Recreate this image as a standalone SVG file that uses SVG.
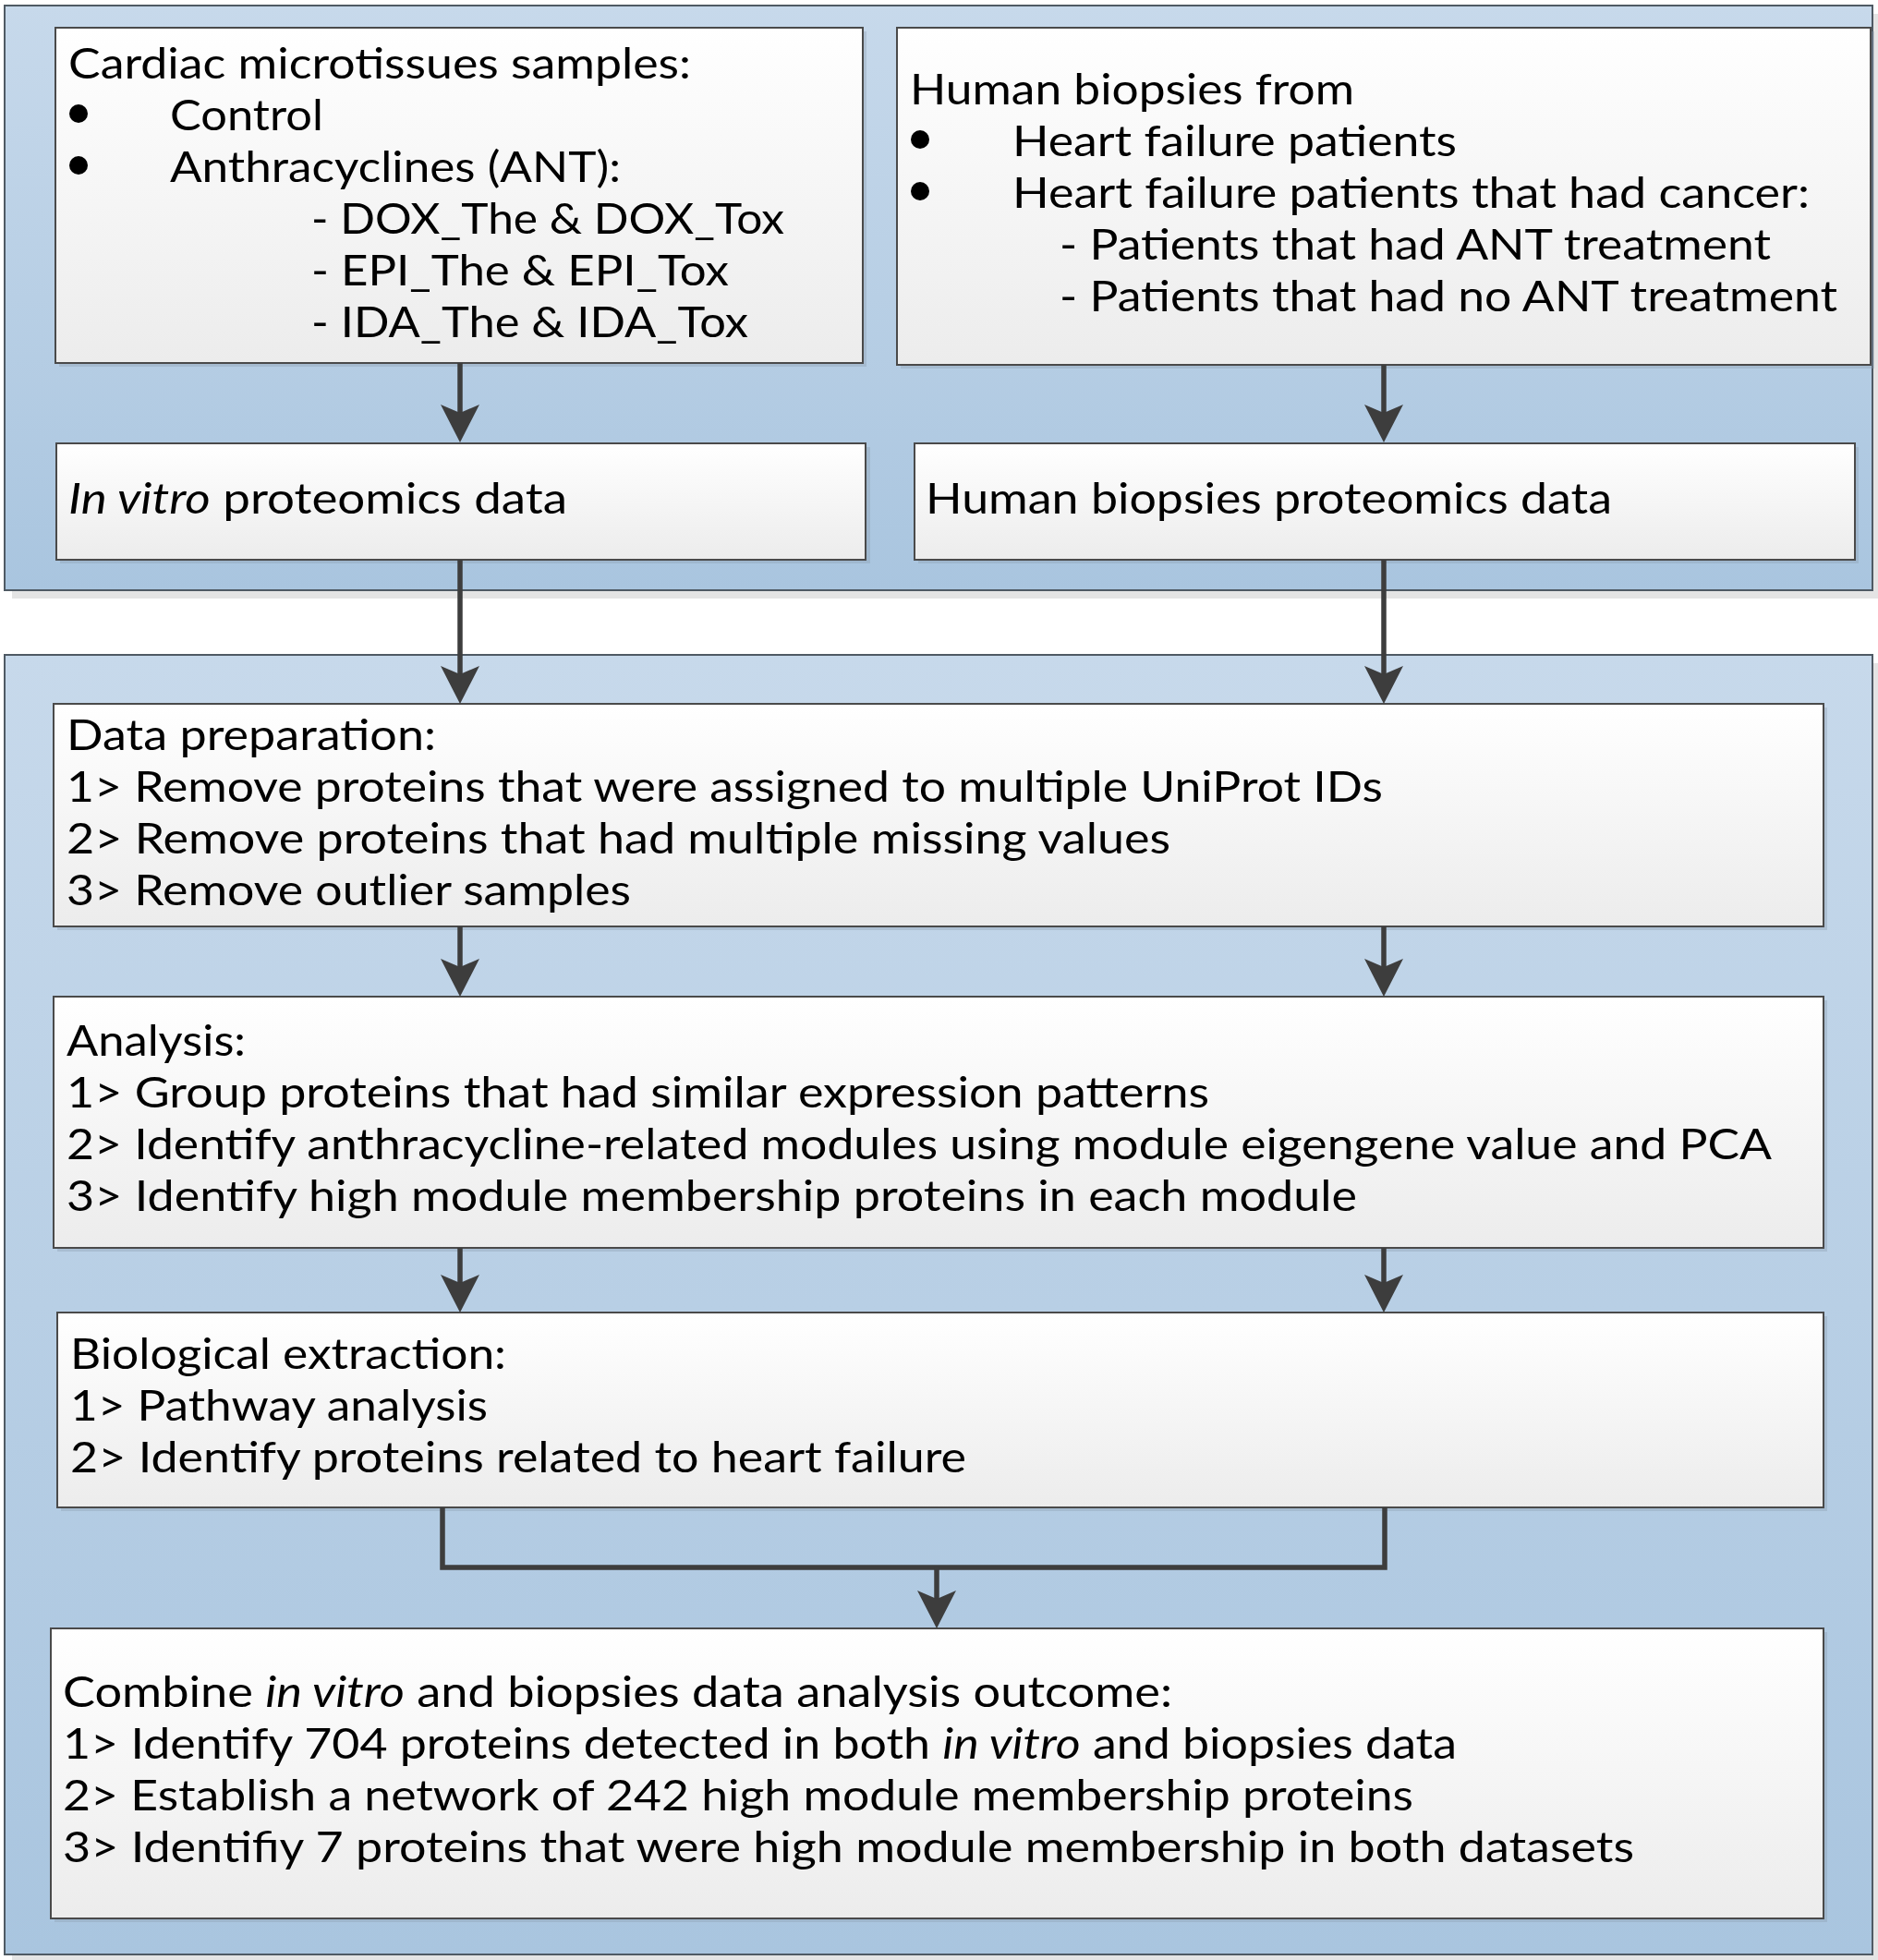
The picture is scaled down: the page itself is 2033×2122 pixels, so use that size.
<svg xmlns="http://www.w3.org/2000/svg" width="2033" height="2122" viewBox="0 0 2033 2122">
<defs>
<linearGradient id="pg" x1="0" y1="0" x2="0" y2="1">
<stop offset="0" stop-color="#c7d9eb"/>
<stop offset="1" stop-color="#a9c5df"/>
</linearGradient>
<linearGradient id="bg" x1="0" y1="0" x2="0" y2="1">
<stop offset="0" stop-color="#ffffff"/>
<stop offset="1" stop-color="#ececec"/>
</linearGradient>
<marker id="ah" markerUnits="userSpaceOnUse" markerWidth="80" markerHeight="80" refX="0" refY="0" orient="auto" overflow="visible">
<path d="M30,0 L-11,-21 L-2,0 L-11,21 Z" fill="#3d3d3d"/>
</marker>
</defs>
<style>
.panel{fill:url(#pg);stroke:#4f5a64;stroke-width:2}
.pshadow{fill:#e4e4e4}
.box{fill:url(#bg);stroke:#4a4a4a;stroke-width:2}
.bshadow{fill:#8a9aab;opacity:0.35}
text{font-family:Lato,'Liberation Sans',sans-serif;font-size:46.5px;fill:#000}
.it{font-style:italic}
.bul{fill:#000}
.con{fill:none;stroke:#3d3d3d;stroke-width:5.5;stroke-linejoin:miter}
.arr{marker-end:url(#ah)}
</style>
<rect width="2033" height="2122" fill="#ffffff"/>
<g id="panel-top">
<rect class="pshadow" x="13" y="15" width="2022" height="633"/>
<rect class="panel" x="5" y="6" width="2022" height="633"/>
</g>
<g id="panel-bottom">
<rect class="pshadow" x="13" y="718" width="2022" height="1407"/>
<rect class="panel" x="5" y="709" width="2022" height="1407"/>
</g>
<g id="box-microtissues">
<rect class="bshadow" x="64" y="34" width="874" height="363"/>
<rect class="box" x="60" y="30" width="874" height="363"/>
<text x="74" y="85" textLength="674" lengthAdjust="spacingAndGlyphs">Cardiac microtissues samples:</text>
<circle class="bul" cx="85" cy="123" r="10"/>
<text x="184" y="141" textLength="166" lengthAdjust="spacingAndGlyphs">Control</text>
<circle class="bul" cx="85" cy="179" r="10"/>
<text x="184" y="197" textLength="488" lengthAdjust="spacingAndGlyphs">Anthracyclines (ANT):</text>
<text x="337" y="253" textLength="512" lengthAdjust="spacingAndGlyphs">- DOX_The &amp; DOX_Tox</text>
<text x="337" y="309" textLength="452" lengthAdjust="spacingAndGlyphs">- EPI_The &amp; EPI_Tox</text>
<text x="337" y="365" textLength="473" lengthAdjust="spacingAndGlyphs">- IDA_The &amp; IDA_Tox</text>
</g>
<g id="box-biopsies">
<rect class="bshadow" x="975" y="34" width="1054" height="365"/>
<rect class="box" x="971" y="30" width="1054" height="365"/>
<text x="985" y="113" textLength="481" lengthAdjust="spacingAndGlyphs">Human biopsies from</text>
<circle class="bul" cx="996" cy="151" r="10"/>
<text x="1096" y="169" textLength="481" lengthAdjust="spacingAndGlyphs">Heart failure patients</text>
<circle class="bul" cx="996" cy="207" r="10"/>
<text x="1096" y="225" textLength="863" lengthAdjust="spacingAndGlyphs">Heart failure patients that had cancer:</text>
<text x="1147" y="281" textLength="770" lengthAdjust="spacingAndGlyphs">- Patients that had ANT treatment</text>
<text x="1147" y="337" textLength="842" lengthAdjust="spacingAndGlyphs">- Patients that had no ANT treatment</text>
</g>
<g id="box-invitro-data">
<rect class="bshadow" x="65" y="484" width="877" height="126"/>
<rect class="box" x="61" y="480" width="876" height="126"/>
<text x="74" y="556" textLength="540" lengthAdjust="spacingAndGlyphs"><tspan class="it">In vitro</tspan> proteomics data</text>
</g>
<g id="box-biopsies-data">
<rect class="bshadow" x="994" y="484" width="1018" height="126"/>
<rect class="box" x="990" y="480" width="1018" height="126"/>
<text x="1002" y="556" textLength="743" lengthAdjust="spacingAndGlyphs">Human biopsies proteomics data</text>
</g>
<g id="box-data-preparation">
<rect class="bshadow" x="62" y="766" width="1916" height="241"/>
<rect class="box" x="58" y="762" width="1916" height="241"/>
<text x="72" y="812" textLength="400" lengthAdjust="spacingAndGlyphs">Data preparation:</text>
<text x="72" y="868" textLength="1425" lengthAdjust="spacingAndGlyphs">1&gt; Remove proteins that were assigned to multiple UniProt IDs</text>
<text x="72" y="924" textLength="1195" lengthAdjust="spacingAndGlyphs">2&gt; Remove proteins that had multiple missing values</text>
<text x="72" y="980" textLength="611" lengthAdjust="spacingAndGlyphs">3&gt; Remove outlier samples</text>
</g>
<g id="box-analysis">
<rect class="bshadow" x="62" y="1083" width="1916" height="272"/>
<rect class="box" x="58" y="1079" width="1916" height="272"/>
<text x="72" y="1143" textLength="194" lengthAdjust="spacingAndGlyphs">Analysis:</text>
<text x="72" y="1199" textLength="1237" lengthAdjust="spacingAndGlyphs">1&gt; Group proteins that had similar expression patterns</text>
<text x="72" y="1255" textLength="1846" lengthAdjust="spacingAndGlyphs">2&gt; Identify anthracycline-related modules using module eigengene value and PCA</text>
<text x="72" y="1311" textLength="1397" lengthAdjust="spacingAndGlyphs">3&gt; Identify high module membership proteins in each module</text>
</g>
<g id="box-biological-extraction">
<rect class="bshadow" x="66" y="1425" width="1912" height="211"/>
<rect class="box" x="62" y="1421" width="1912" height="211"/>
<text x="76" y="1482" textLength="472" lengthAdjust="spacingAndGlyphs">Biological extraction:</text>
<text x="76" y="1538" textLength="452" lengthAdjust="spacingAndGlyphs">1&gt; Pathway analysis</text>
<text x="76" y="1594" textLength="970" lengthAdjust="spacingAndGlyphs">2&gt; Identify proteins related to heart failure</text>
</g>
<g id="box-combine">
<rect class="bshadow" x="59" y="1767" width="1919" height="314"/>
<rect class="box" x="55" y="1763" width="1919" height="314"/>
<text x="68" y="1848" textLength="1201" lengthAdjust="spacingAndGlyphs">Combine <tspan class="it">in vitro</tspan> and biopsies data analysis outcome:</text>
<text x="68" y="1904" textLength="1509" lengthAdjust="spacingAndGlyphs">1&gt; Identify 704 proteins detected in both <tspan class="it">in vitro</tspan> and biopsies data</text>
<text x="68" y="1960" textLength="1462" lengthAdjust="spacingAndGlyphs">2&gt; Establish a network of 242 high module membership proteins</text>
<text x="68" y="2016" textLength="1701" lengthAdjust="spacingAndGlyphs">3&gt; Identifiy 7 proteins that were high module membership in both datasets</text>
</g>
<g id="connectors">
<path class="con arr" d="M498,393 V449"/>
<path class="con arr" d="M1498,395 V449"/>
<path class="con arr" d="M498,606 V732"/>
<path class="con arr" d="M1498,606 V732"/>
<path class="con arr" d="M498,1003 V1049"/>
<path class="con arr" d="M1498,1003 V1049"/>
<path class="con arr" d="M498,1351 V1391"/>
<path class="con arr" d="M1498,1351 V1391"/>
<path class="con" d="M479,1632 V1697 H1499 V1632"/>
<path class="con arr" d="M1014,1697 V1733"/>
</g>
</svg>
